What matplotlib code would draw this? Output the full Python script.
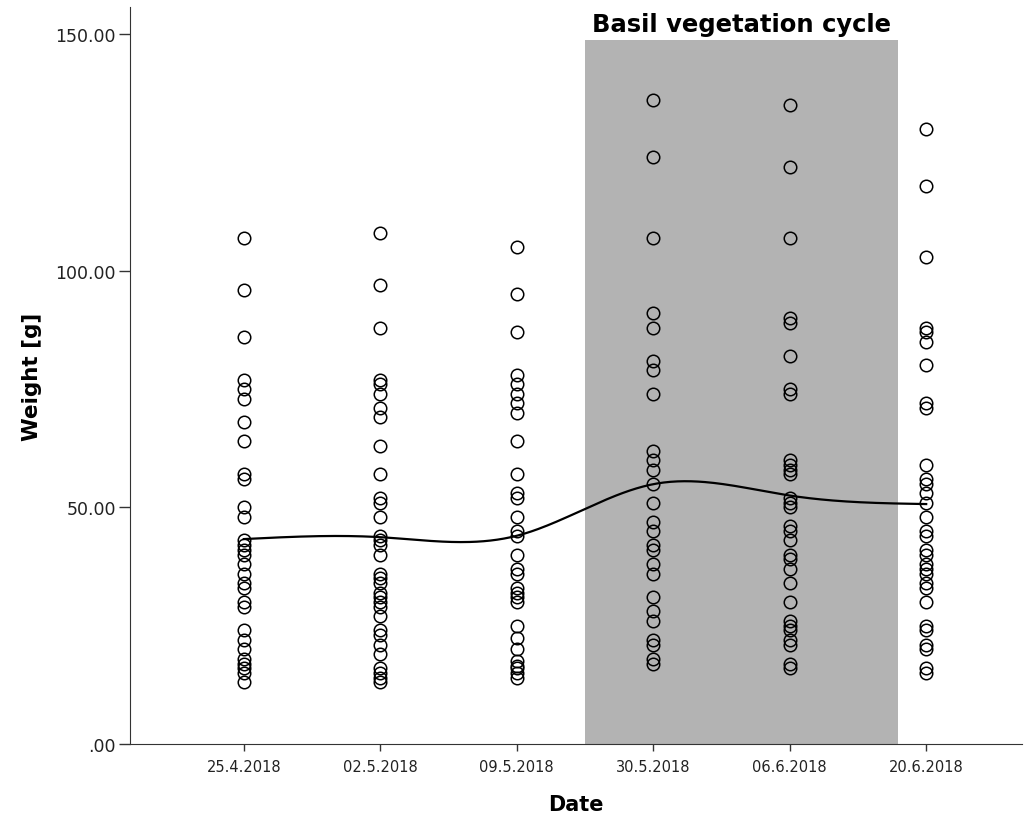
import numpy as np
import matplotlib
matplotlib.use('Agg')
import matplotlib.pyplot as plt

dates = ['25.4.2018', '02.5.2018', '09.5.2018', '30.5.2018', '06.6.2018', '20.6.2018']

w_2504 = [107, 96, 86, 77, 75, 73, 68, 64, 57, 56, 50, 48, 43, 42, 41, 40, 38, 36,
          34, 33, 30, 29, 24, 22, 20, 18, 17, 16, 15, 13]
w_0205 = [108, 97, 88, 77, 76, 74, 71, 69, 63, 57, 52, 51, 48, 44, 43, 42, 40, 36,
          35, 34, 32, 31, 30, 29, 27, 24, 23, 21, 19, 16, 15, 14, 13]
w_0905 = [105, 95, 87, 78, 76, 74, 72, 70, 64, 57, 53, 52, 48, 45, 44, 40, 37, 36,
          33, 32, 31, 30, 25, 22.5, 20, 17.5, 16.5, 16, 15, 14]
w_3005 = [136, 124, 107, 91, 88, 81, 79, 74, 62, 60, 58, 55, 51, 47, 45, 42, 41, 38,
          36, 31, 28, 26, 22, 21, 18, 17]
w_0606 = [135, 122, 107, 90, 89, 82, 75, 74, 60, 59, 58, 57, 52, 51, 50, 46, 45, 43,
          40, 39, 37, 34, 30, 26, 25, 24, 22, 21, 17, 16]
w_2006 = [130, 118, 103, 88, 87, 85, 80, 72, 71, 59, 56, 55, 53, 51, 48, 45, 44, 41,
          40, 38, 37, 36, 34, 33, 30, 25, 24, 21, 20, 16, 15]
weights = [w_2504, w_0205, w_0905, w_3005, w_0606, w_2006]

# knots of the interpolation line (read at each date)
line_knots = [43.3, 43.7, 44.0, 54.9, 52.5, 50.7]

cycle_start, cycle_end = 2.5, 4.79
cycle_top = 148.7


def natural_spline(xk, yk, xs):
    xk = np.asarray(xk, float)
    yk = np.asarray(yk, float)
    n = len(xk)
    h = np.diff(xk)
    A = np.zeros((n, n))
    b = np.zeros(n)
    A[0, 0] = A[-1, -1] = 1
    for i in range(1, n - 1):
        A[i, i - 1] = h[i - 1]
        A[i, i] = 2 * (h[i - 1] + h[i])
        A[i, i + 1] = h[i]
        b[i] = 3 * ((yk[i + 1] - yk[i]) / h[i] - (yk[i] - yk[i - 1]) / h[i - 1])
    c = np.linalg.solve(A, b)
    out = np.empty_like(xs)
    for j, x in enumerate(xs):
        i = min(np.searchsorted(xk, x, side='right') - 1, n - 2)
        dx = x - xk[i]
        bi = (yk[i + 1] - yk[i]) / h[i] - h[i] * (2 * c[i] + c[i + 1]) / 3
        di = (c[i + 1] - c[i]) / (3 * h[i])
        out[j] = yk[i] + bi * dx + c[i] * dx ** 2 + di * dx ** 3
    return out


fig = plt.figure(figsize=(10.31, 8.2), dpi=100)
ax = fig.add_axes([0.126, 0.0915, 0.865, 0.8985])

ax.fill_between([cycle_start, cycle_end], 0, cycle_top, color='#b3b3b3', lw=0, zorder=0)
ax.annotate('Basil vegetation cycle', xy=((cycle_start + cycle_end) / 2, cycle_top),
            xytext=(0, 3), textcoords='offset points', ha='center', va='bottom',
            fontsize=17.5, fontweight='bold')

for i, w in enumerate(weights):
    ax.plot([i] * len(w), w, 'o', mfc='none', mec='black', ms=9, mew=1.1, zorder=3)

xs = np.linspace(0, len(dates) - 1, 300)
ax.plot(xs, natural_spline(range(len(dates)), line_knots, xs), color='black', lw=1.6, zorder=2)

ax.set_xlim(-0.835, 5.70)
ax.set_ylim(0, 155.7)
ax.set_xticks(range(len(dates)))
ax.set_xticklabels(dates, fontsize=10.5, color='#222222')
ax.set_yticks([0, 50, 100, 150])
ax.set_yticklabels(['.00', '50.00', '100.00', '150.00'], fontsize=12.5, color='#222222')
ax.tick_params(axis='y', length=8, width=1, color='#333333', pad=2)
ax.tick_params(axis='x', length=5, width=1, color='#333333', pad=6)
for s in ['top', 'right']:
    ax.spines[s].set_visible(False)
for s in ['left', 'bottom']:
    ax.spines[s].set_color('#333333')

ax.set_xlabel('Date', fontsize=15, fontweight='bold', labelpad=14)
ax.set_ylabel('Weight [g]', fontsize=15.5, fontweight='bold', labelpad=10)

fig.savefig('out.png', dpi=100)
